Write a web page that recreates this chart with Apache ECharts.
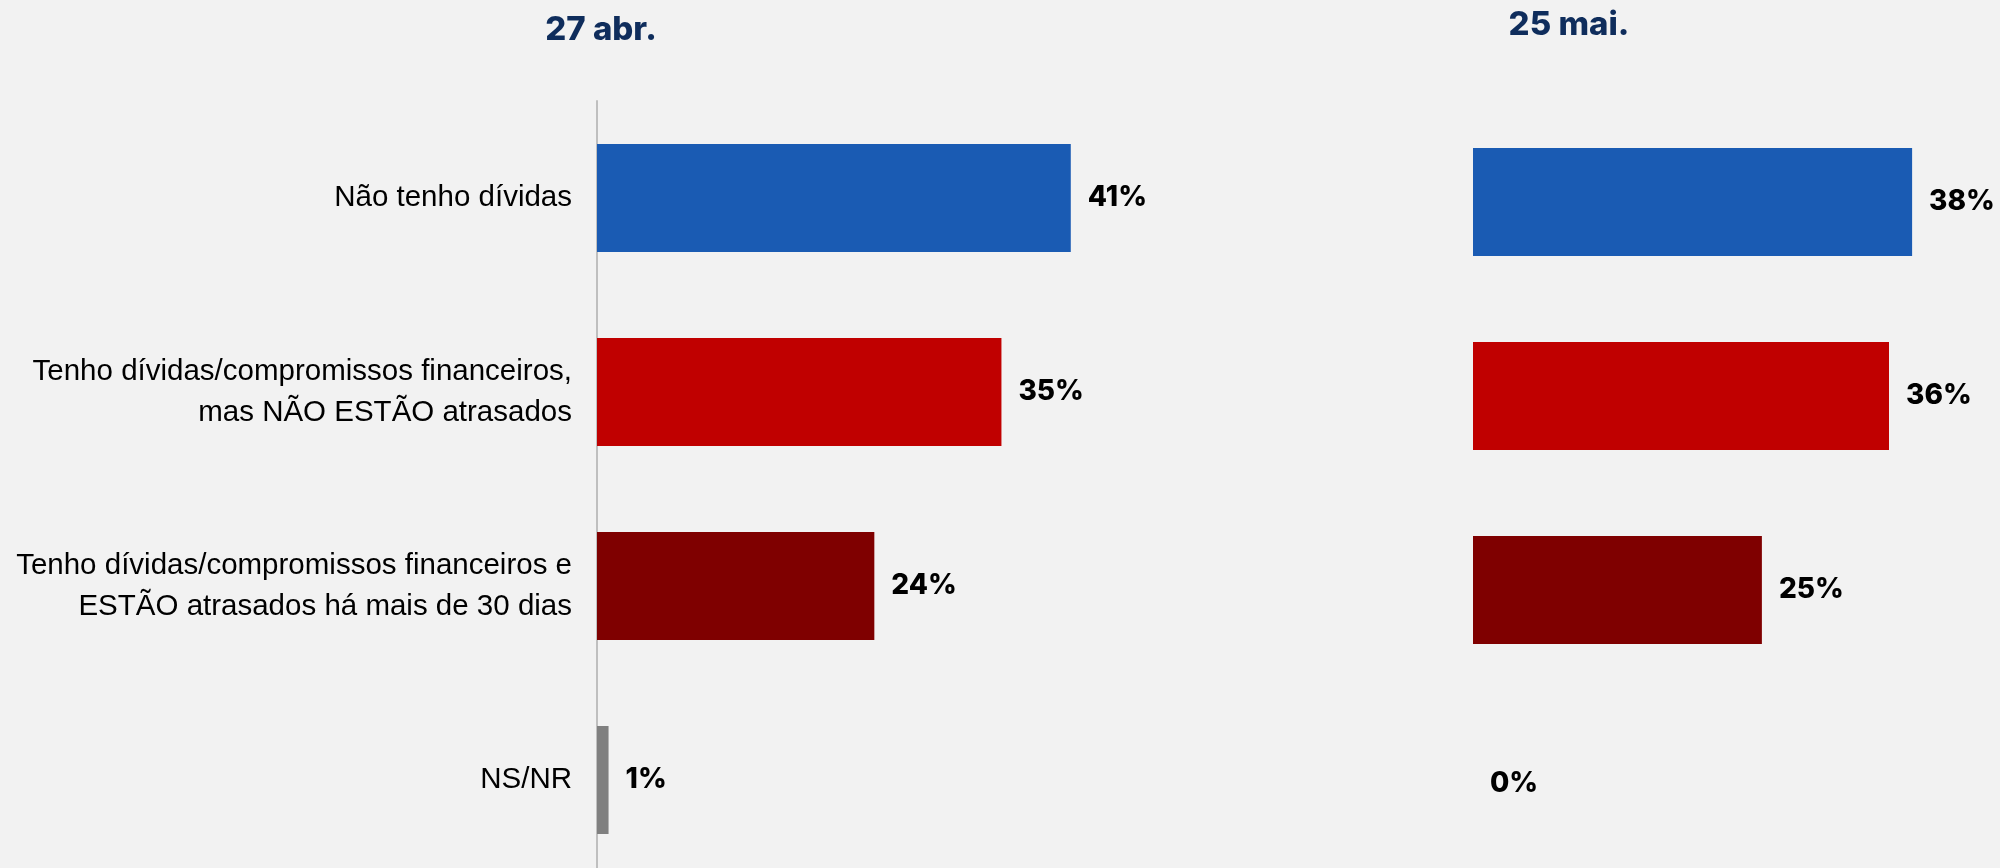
<!DOCTYPE html>
<html>
<head>
<meta charset="utf-8">
<script src="https://cdn.jsdelivr.net/npm/echarts@6/dist/echarts.min.js"></script>
<style>
  html, body { margin: 0; padding: 0; background: #F2F2F2; }
  #chart { width: 2000px; height: 868px; }
</style>
</head>
<body>
<div id="chart"></div>
<script>
// Survey answers, two waves
const categories = [
  'Não tenho dívidas',
  'Tenho dívidas/compromissos financeiros,\nmas NÃO ESTÃO atrasados',
  'Tenho dívidas/compromissos financeiros e\nESTÃO atrasados há mais de 30 dias',
  'NS/NR'
];
const waveLabels = ['27 abr.', '25 mai.'];
const valuesApr = [41, 35, 24, 1];
const valuesMay = [38, 36, 25, 0];
const barColors = ['#1A5BB3', '#C00000', '#7F0000', '#808080'];

const chart = echarts.init(document.getElementById('chart'));

const valueLabel = {
  show: true,
  position: 'right',
  distance: 17,
  formatter: '{c}%',
  color: '#000000',
  fontFamily: 'Inter',
  fontWeight: 800,
  fontSize: 28
};

function coloured(values) {
  return values.map((v, i) => ({ value: v, itemStyle: { color: barColors[i] } }));
}

function heading(text, x, y) {
  return {
    type: 'text', x: x, y: y,
    style: {
      text: text, fill: '#0F2D5C', font: '800 33px Inter',
      align: 'center', verticalAlign: 'middle'
    }
  };
}

chart.setOption({
  backgroundColor: '#F2F2F2',
  animation: false,
  graphic: [
    heading(waveLabels[0], 601, 30),
    heading(waveLabels[1], 1569, 25)
  ],
  // the plot runs off the bottom edge, so let the grids overflow the canvas
  grid: [
    { left: 597, top: 101, width: 520, height: 776, outerBoundsMode: 'none' },
    { left: 1473, top: 105, width: 520, height: 776, outerBoundsMode: 'none' }
  ],
  xAxis: [
    { type: 'value', gridIndex: 0, min: 0, max: 45, show: false },
    { type: 'value', gridIndex: 1, min: 0, max: 45, show: false }
  ],
  yAxis: [
    {
      type: 'category', gridIndex: 0, data: categories, inverse: true,
      axisLine: { show: true, lineStyle: { color: '#BFBFBF', width: 2 } },
      axisTick: { show: false },
      axisLabel: {
        margin: 25, color: '#000000', fontFamily: 'Liberation Sans',
        fontSize: 29.5, lineHeight: 41, align: 'right'
      }
    },
    {
      type: 'category', gridIndex: 1, data: categories, inverse: true,
      axisLine: { show: false }, axisTick: { show: false }, axisLabel: { show: false }
    }
  ],
  series: [
    {
      type: 'bar', xAxisIndex: 0, yAxisIndex: 0, barWidth: 108,
      data: coloured(valuesApr), label: valueLabel
    },
    {
      type: 'bar', xAxisIndex: 1, yAxisIndex: 1, barWidth: 108,
      data: coloured(valuesMay), label: valueLabel
    }
  ]
});
</script>
</body>
</html>
